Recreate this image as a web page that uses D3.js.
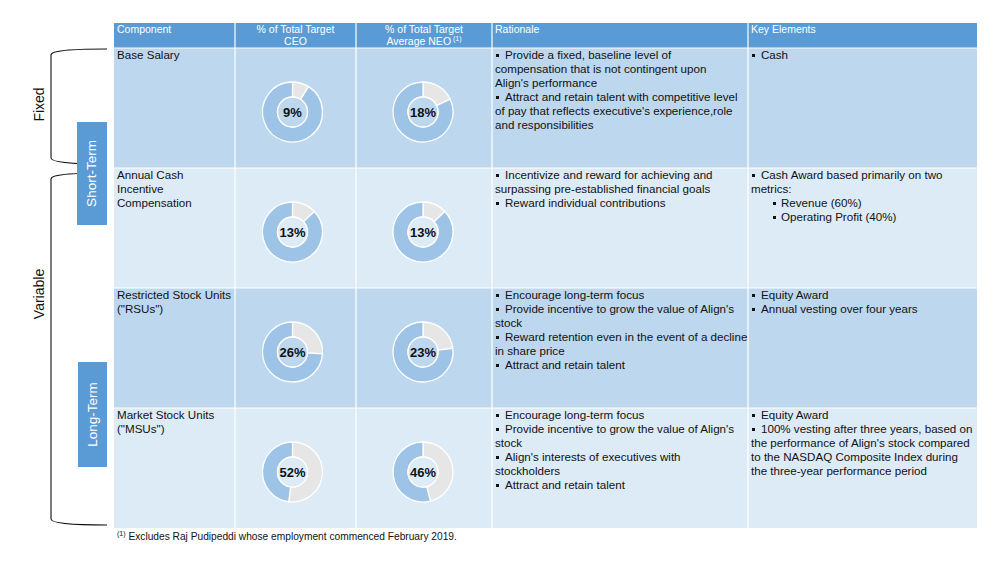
<!DOCTYPE html>
<html><head><meta charset="utf-8">
<script src="https://cdn.jsdelivr.net/npm/d3@7"></script>
<style>
html,body{margin:0;padding:0;background:#fff;}
svg{display:block;font-family:"Liberation Sans",Arial,sans-serif;}
</style></head>
<body><svg id="c" width="1008" height="564"></svg>
<script>
const headers = [["Component"],["% of Total Target","CEO"],["% of Total Target","Average NEO"],["Rationale"],["Key Elements"]];
const components = [["Base Salary"],["Annual Cash","Incentive","Compensation"],["Restricted Stock Units","(\"RSUs\")"],["Market Stock Units","(\"MSUs\")"]];
const ceoPct = [9, 13, 26, 52];
const neoPct = [18, 13, 23, 46];
const rationale = [
  [["b","Provide a fixed, baseline level of"],["","compensation that is not contingent upon"],["","Align's performance"],["b","Attract and retain talent with competitive level"],["","of pay that reflects executive's experience,role"],["","and responsibilities"]],
  [["b","Incentivize and reward for achieving and"],["","surpassing pre-established financial goals"],["b","Reward individual contributions"]],
  [["b","Encourage long-term focus"],["b","Provide incentive to grow the value of Align's"],["","stock"],["b","Reward retention even in the event of a decline"],["","in share price"],["b","Attract and retain talent"]],
  [["b","Encourage long-term focus"],["b","Provide incentive to grow the value of Align's"],["","stock"],["b","Align's interests of executives with"],["","stockholders"],["b","Attract and retain talent"]]
];
const keyElements = [
  [["b","Cash"]],
  [["b","Cash Award based primarily on two"],["","metrics:"],["s","Revenue (60%)"],["s","Operating Profit (40%)"]],
  [["b","Equity Award"],["b","Annual vesting over four years"]],
  [["b","Equity Award"],["b","100% vesting after three years, based on"],["","the performance of Align's stock compared"],["","to the NASDAQ Composite Index during"],["","the three-year performance period"]]
];
const groups = [{label:"Fixed", rows:[0,0]},{label:"Variable", rows:[1,3]}];
const terms = [{label:"Short-Term"},{label:"Long-Term"}];
const footnote = "Excludes Raj Pudipeddi whose employment commenced February 2019.";

const svg = d3.select("#c");
const colX = [114, 235, 356, 492, 748, 977];
const headTop = 23, headBot = 48, rowH = 120;
const rowY = d3.scaleLinear().domain([0,4]).range([headBot, headBot+4*rowH]);
const headBlue = "#5B9BD5", darkRow = "#BDD7EE", lightRow = "#DDEBF7";
const rowFill = i => i%2===0 ? darkRow : lightRow;
const FS = 11.6;

// header
for (let c=0;c<5;c++){
  svg.append("rect").attr("x",colX[c]).attr("y",headTop).attr("width",colX[c+1]-colX[c]).attr("height",headBot-headTop).attr("fill",headBlue);
  const lines = headers[c];
  const center = (c===1||c===2);
  const t = svg.append("text").attr("fill","#fff").attr("font-size",10.5)
    .attr("text-anchor", center?"middle":"start");
  lines.forEach((l,i)=>{
    t.append("tspan").attr("x", center?(colX[c]+colX[c+1])/2 : colX[c]+3).attr("y", headTop+10+i*12).text(l);
    if (c===2 && i===1){ t.append("tspan").attr("font-size",7).attr("dy",-4).text(" (1)"); }
  });
}
// rows
for (let r=0;r<4;r++){
  for (let c=0;c<5;c++){
    svg.append("rect").attr("x",colX[c]).attr("y",rowY(r)).attr("width",colX[c+1]-colX[c]).attr("height",rowH).attr("fill",rowFill(r));
  }
}
// grid lines
const grid = svg.append("g").attr("stroke","#fff").attr("stroke-width",1.2);
colX.slice(1,-1).forEach(x=>grid.append("line").attr("x1",x).attr("x2",x).attr("y1",headTop).attr("y2",rowY(4)));
for (let r=0;r<=3;r++) grid.append("line").attr("x1",colX[0]).attr("x2",colX[5]).attr("y1",rowY(r)).attr("y2",rowY(r));

// component text
components.forEach((lines,r)=>{
  const t = svg.append("text").attr("font-size",FS).attr("fill","#111");
  lines.forEach((l,i)=>t.append("tspan").attr("x",colX[0]+3).attr("y",rowY(r)+11+i*14).text(l));
});

// bullet text
function bulletText(data, col, r){
  data.forEach((item,i)=>{
    const [kind, txt] = item;
    const y = rowY(r)+11+i*14;
    let x = colX[col]+3;
    if (kind==="b"){
      svg.append("rect").attr("x",x+1).attr("y",y-5).attr("width",3).attr("height",3).attr("fill","#111");
      x += 10;
    } else if (kind==="s"){
      svg.append("rect").attr("x",x+22).attr("y",y-5).attr("width",3).attr("height",3).attr("fill","#111");
      x += 30;
    }
    svg.append("text").attr("x",x).attr("y",y).attr("font-size",FS).attr("fill","#111").text(txt);
  });
}
rationale.forEach((d,r)=>bulletText(d,3,r));
keyElements.forEach((d,r)=>bulletText(d,4,r));

// donuts
const pie = d3.pie().sort(null).value(d=>d.v);
const arc = d3.arc().innerRadius(15).outerRadius(30);
function donut(cx, cy, pct, bg){
  const g = svg.append("g").attr("transform",`translate(${cx},${cy})`);
  const data = [{v:pct, c:"#E7E6E6"},{v:100-pct, c:"#9DC3E6"}];
  g.selectAll("path").data(pie(data)).join("path").attr("d",arc).attr("fill",d=>d.data.c).attr("stroke","#fff").attr("stroke-width",1.3);
  g.append("circle").attr("r",15).attr("fill",bg).attr("stroke","#fff").attr("stroke-width",1.3);
  g.append("text").attr("text-anchor","middle").attr("dy","0.36em").attr("font-size",13).attr("font-weight","bold").attr("fill","#111").text(pct+"%");
}
for (let r=0;r<4;r++){
  const cy = (rowY(r)+rowY(r+1))/2 + 4;
  donut((colX[1]+colX[2])/2 - 3, cy, ceoPct[r], rowFill(r));
  donut((colX[2]+colX[3])/2 - 1, cy, neoPct[r], rowFill(r));
}

// brackets
function brace(y1, y2){
  const p = d3.path();
  p.moveTo(107, y1);
  p.bezierCurveTo(80, y1, 51, y1+1, 51, y1+6);
  p.lineTo(51, y2-6);
  p.bezierCurveTo(51, y2-1, 80, y2, 107, y2);
  svg.append("path").attr("d",p.toString()).attr("fill","none").attr("stroke","#111").attr("stroke-width",1.1);
}
const braceY = [[49,164],[173,525]];
groups.forEach((g,i)=>{
  brace(braceY[i][0], braceY[i][1]);
  const my = (braceY[i][0]+braceY[i][1])/2 - (i===1?55:2);
  svg.append("text").attr("transform",`translate(44,${my}) rotate(-90)`).attr("text-anchor","middle").attr("font-size",14).attr("fill","#111").text(g.label);
});
const termBox = [[77,122,30,103],[78,362,29,105]];
terms.forEach((t,i)=>{
  const [x,y,w,h] = termBox[i];
  svg.append("rect").attr("x",x).attr("y",y).attr("width",w).attr("height",h).attr("fill",headBlue);
  svg.append("text").attr("transform",`translate(${x+w/2+4},${y+h/2}) rotate(-90)`).attr("text-anchor","middle").attr("font-size",13.5).attr("fill","#fff").text(t.label);
});

// footnote
const ft = svg.append("text").attr("x",117).attr("y",540).attr("font-size",10.2).attr("fill","#111");
ft.append("tspan").attr("font-size",7).attr("dy",-4).text("(1)");
ft.append("tspan").attr("dy",4).text(" "+footnote);
</script></body></html>
